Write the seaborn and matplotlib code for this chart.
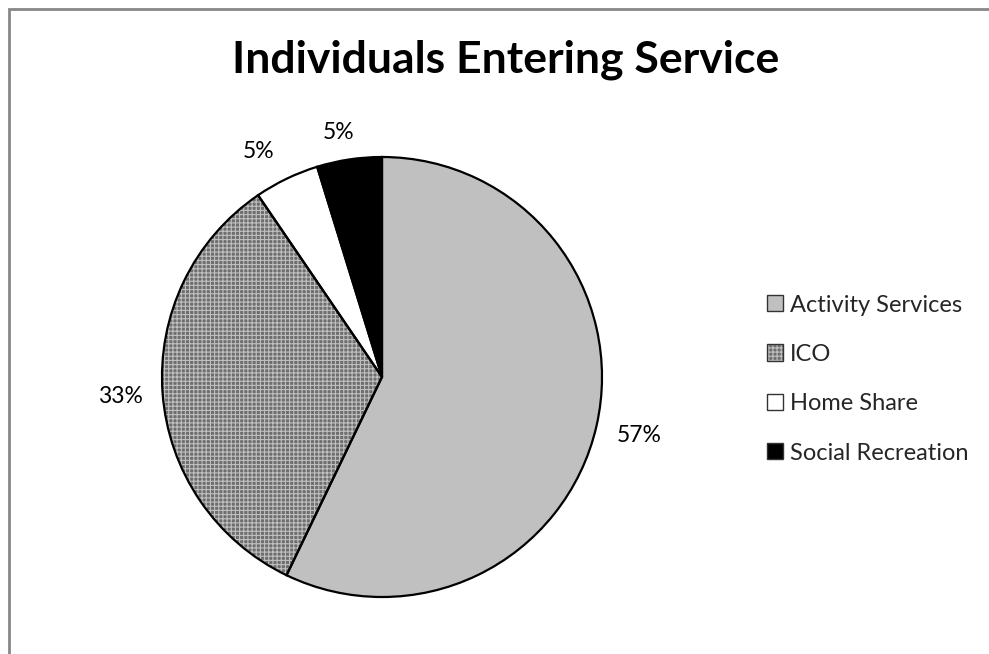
import matplotlib
matplotlib.use("Agg")
import matplotlib.pyplot as plt
import seaborn as sns
import numpy as np
from matplotlib.patches import Rectangle, Patch
from matplotlib.legend_handler import HandlerTuple

# data
categories = ["Activity Services", "ICO", "Home Share", "Social Recreation"]
counts = [12, 7, 1, 1]
pct_labels = ["57%", "33%", "5%", "5%"]

sns.set_theme(style="white")
plt.rcParams["font.family"] = ["Lato", "DejaVu Sans"]
plt.rcParams["hatch.linewidth"] = 0.8

colors = ["#c0c0c0", "#6e6e6e", "white", "black"]
hatches = [None, "++++", None, None]
hatch_col = "#c0c0c0"

W, H = 989, 654
fig = plt.figure(figsize=(W / 100, H / 100), dpi=100)

cx, cy, r = 382, 377, 220
ax = fig.add_axes([(cx - r) / W, (H - cy - r) / H, 2 * r / W, 2 * r / H])

# fill layer (hatch in light gray)
fills, _ = ax.pie(counts, startangle=90, counterclock=False, colors=colors,
                  wedgeprops=dict(linewidth=0, edgecolor="white"))
for w, h in zip(fills, hatches):
    if h:
        w.set_hatch(h)
        w.set_edgecolor(hatch_col)
# outline layer
outlines, _ = ax.pie(counts, startangle=90, counterclock=False,
                     colors=["none"] * 4,
                     wedgeprops=dict(linewidth=1.6, edgecolor="black"))
ax.set_xlim(-1, 1)
ax.set_ylim(-1, 1)
ax.set_aspect("equal")
ax.axis("off")

# percentage labels outside slices
dist = [1.2, 1.19, 1.17, 1.13]
nudge = [0, 0, 3, 1.5]
for w, lab, d, n in zip(outlines, pct_labels, dist, nudge):
    ang = np.deg2rad((w.theta1 + w.theta2) / 2 + n)
    ax.text(d * np.cos(ang), d * np.sin(ang), lab, ha="center", va="center",
            fontsize=16.5, color="black", clip_on=False)

fig.text(506 / W, 1 - 60 / H, "Individuals Entering Service", ha="center",
         va="center", fontsize=32, fontweight="bold", color="black")

# legend squares: fill (with hatch) + thin outline overlaid
handles = []
for c, h in zip(colors, hatches):
    fill = Patch(facecolor=c, hatch=h, edgecolor=hatch_col if h else c, linewidth=0)
    edge = Patch(facecolor="none", edgecolor="#333333", linewidth=1.0)
    handles.append((fill, edge))
fig.legend(handles, categories, handler_map={tuple: HandlerTuple(ndivide=1, pad=0)},
           loc="center left", bbox_to_anchor=(767 / W, (H - 379) / H),
           frameon=False, fontsize=17, handlelength=0.68, handleheight=0.68,
           handletextpad=0.3, labelspacing=1.2, borderpad=0, borderaxespad=0)

# chart-area border (left and top edges visible)
fig.patches.append(Rectangle((8.5 / W, -0.1), 2, 1.1 - 9.5 / H,
                             transform=fig.transFigure, fill=False,
                             edgecolor="#878787", linewidth=2))

fig.savefig("out.png", dpi=100)
